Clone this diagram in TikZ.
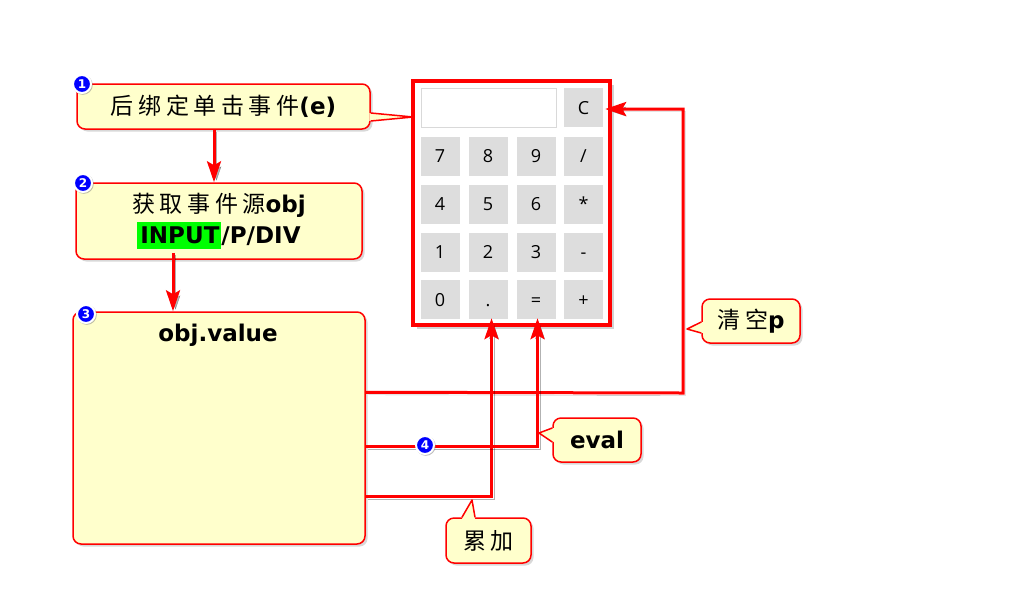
\documentclass[tikz,border=0pt]{standalone}
\usepackage{fontspec}
\setmainfont{DejaVu Sans}
\newfontfamily\cjk[LetterSpace=20]{Noto Sans CJK SC}
\newfontfamily\btnfont{Open Sans}
\usetikzlibrary{arrows.meta,shadows,calc}
\definecolor{cred}{HTML}{FF0000}
\definecolor{cyel}{HTML}{FFFFCC}
\definecolor{cgray}{HTML}{DDDDDD}
\definecolor{hlgreen}{HTML}{00FF00}
\definecolor{cblue}{HTML}{0000FF}
\newcommand\myfs[1]{\fontsize{#1}{#1}\selectfont}
\newcommand\lb{\rmfamily\bfseries}
\begin{document}
\begin{tikzpicture}[x=1pt,y=-1pt,
  box/.style={draw=cred,line width=1.5pt,fill=cyel,rounded corners=8pt,inner sep=0pt,
     drop shadow={opacity=0.3,shadow xshift=2.5pt,shadow yshift=-2.5pt}},
  tailfill/.style={fill=cyel},
  tailline/.style={draw=cred,line width=1.5pt,line join=round},
  link/.style={draw=cred,line width=3pt,line join=miter,
     preaction={draw=black,opacity=0.3,transform canvas={xshift=2.5pt,yshift=-2.5pt}}},
  tip/.style={-{Stealth[length=21pt,width=14pt,inset=4pt]}},
  badge/.style={circle,fill=cblue,draw=white,line width=2pt,inner sep=0pt,minimum size=18pt,
     text=white,font=\lb\myfs{12},drop shadow={opacity=0.5,shadow xshift=0.8pt,shadow yshift=-0.8pt,shadow scale=1.1}},
  btn/.style={fill=cgray,minimum size=39pt,inner sep=0pt,text height=13pt,text depth=0pt,font=\btnfont\myfs{18}},
  cjkt/.style={font=\cjk\myfs{23}}
]
\fill[white] (0,0) rectangle (1024,611);
\useasboundingbox (0,0) rectangle (1024,611);

% left boxes
\node[box,minimum width=293pt,minimum height=45pt,cjkt] (b1) at (223.5,106.5) {后绑定单击事件{\lb (e)}};
\node[box,minimum width=286pt,minimum height=76pt,align=center,font=\cjk\fontsize{23}{31}\selectfont] (b2) at (219,221)
  {获取事件源{\lb obj}\\{\lb\setlength\fboxsep{0pt}\colorbox{hlgreen}{\rule[-5pt]{0pt}{27pt}\hspace{3pt}INPUT\hspace{2pt}}/P/DIV}};
\node[box,minimum width=292pt,minimum height=232pt] (b3) at (219,428) {};
\node[font=\lb\myfs{23}] (b3t) at (218,335) {obj.value};

% calculator
\node[draw=cred,line width=3.5pt,fill=white,minimum width=197pt,minimum height=244pt,inner sep=0pt,
  drop shadow={opacity=0.35,shadow xshift=4pt,shadow yshift=-4pt}] (calc) at (511.5,203) {};
\node[draw=black!15,line width=0.8pt,fill=white,minimum width=135pt,minimum height=39pt] (disp) at (488.5,107.5) {};
\node[btn] (kC) at (583.5,107.5) {C};
\node[btn] (k7) at (440,156) {7};
\node[btn] (k8) at (488,156) {8};
\node[btn] (k9) at (536,156) {9};
\node[btn] (kDiv) at (583.5,156) {/};
\node[btn] (k4) at (440,204) {4};
\node[btn] (k5) at (488,204) {5};
\node[btn] (k6) at (536,204) {6};
\node[btn] (kMul) at (583.5,204) {*};
\node[btn] (k1) at (440,252) {1};
\node[btn] (k2) at (488,252) {2};
\node[btn] (k3) at (536,252) {3};
\node[btn] (kSub) at (583.5,252) {-};
\node[btn] (k0) at (440,299.5) {0};
\node[btn] (kDot) at (488,299.5) {.};
\node[btn] (kEq) at (536,299.5) {=};
\node[btn] (kAdd) at (583.5,299.5) {+};

% connectors
\draw[link,tip] (214,0 |- b1.south) -- (214,0 |- b2.north);
\draw[link,tip] ($(173,0 |- b2.south)+(0,-7)$) -- (173,0 |- b3.north);
\coordinate (s1) at ($(b3.north east)+(0,81)$);
\coordinate (s2) at ($(b3.north east)+(0,135)$);
\coordinate (s3) at ($(b3.north east)+(0,185)$);
\coordinate (c1) at (683,393);
\draw[link,tip] (s1) -- (c1) |- ($(kC.east)+(2,1.5)$);
\draw[link,tip] (s3) -| ($(kDot.south)+(3.5,-1)$);
\draw[link,tip] (s2) -| ($(kEq.south)+(1.5,-1)$);

% callouts
\node[box,minimum width=98pt,minimum height=44pt,cjkt] (cP) at (751,321) {清空{\lb p}};
\node[box,minimum width=88pt,minimum height=44pt,font=\lb\myfs{23}] (cE) at (597,440) {eval};
\node[box,minimum width=85pt,minimum height=45pt,cjkt] (cA) at (488.5,540.5) {累加};
\coordinate (t1) at (413,117);
\coordinate (tP) at (687,329);
\coordinate (tE) at (539,433);
\coordinate (tA) at (472,500);
% tails
\fill[tailfill] ($(b1.east)+(-1.5,6.5)$) -- (t1) -- ($(b1.east)+(-1.5,14.5)$) -- cycle;
\draw[tailline] ($(b1.east)+(0,6.5)$) -- (t1) -- ($(b1.east)+(0,14.5)$);
\fill[tailfill] ($(cP.west)+(1.5,1)$) -- (tP) -- ($(cP.west)+(1.5,12)$) -- cycle;
\draw[tailline] ($(cP.west)+(0,1)$) -- (tP) -- ($(cP.west)+(0,12)$);
\fill[tailfill] ($(cE.west)+(1.5,-12)$) -- (tE) -- ($(cE.west)+(1.5,2)$) -- cycle;
\draw[tailline] ($(cE.west)+(0,-12)$) -- (tE) -- ($(cE.west)+(0,2)$);
\fill[tailfill] ($(cA.north)+(-26.5,1.5)$) -- (tA) -- ($(cA.north)+(-13.5,1.5)$) -- cycle;
\draw[tailline] ($(cA.north)+(-26.5,0)$) -- (tA) -- ($(cA.north)+(-13.5,0)$);

% badges
\node[badge] (n1) at (82,84) {1};
\node[badge] (n2) at (83,183) {2};
\node[badge] (n3) at (86,314) {3};
\node[badge] (n4) at (425,445) {4};
\end{tikzpicture}
\end{document}
